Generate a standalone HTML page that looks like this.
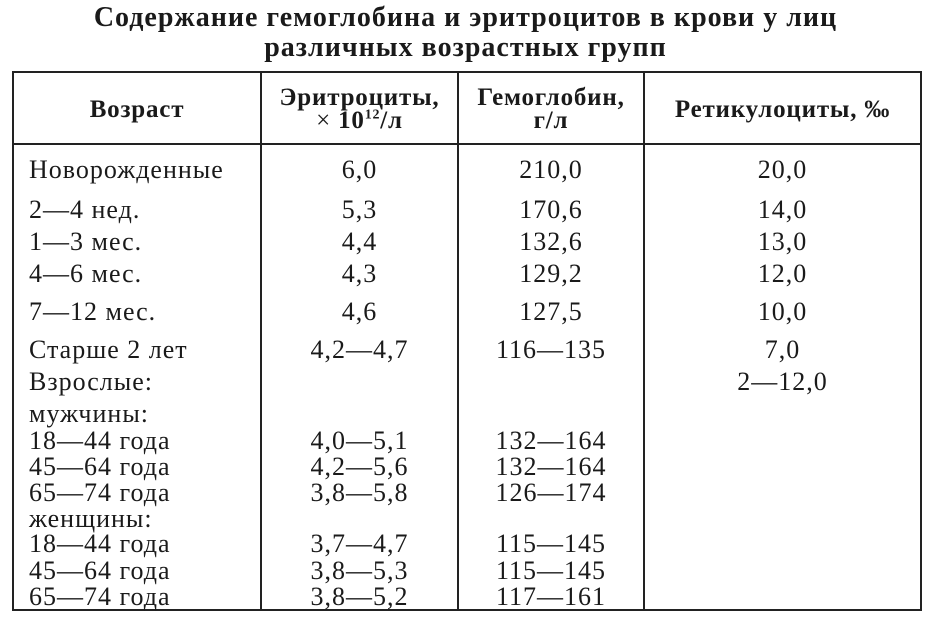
<!DOCTYPE html>
<html><head><meta charset="utf-8"><style>
body{margin:0;width:931px;height:618px;background:#fff;position:relative;overflow:hidden;font-family:"Liberation Serif","DejaVu Serif",serif;color:#1a1a1a}
.t{position:absolute;white-space:nowrap;line-height:28px;height:28px;font-size:26px;letter-spacing:1px}
.c{text-align:center}
.h{font-weight:bold;font-size:25px;letter-spacing:0.8px}
.ti{position:absolute;left:0;width:931px;text-align:center;font-weight:bold;font-size:28px;line-height:30px;letter-spacing:1px}
.ln{position:absolute;background:#222}
</style></head><body>
<div class="ti" style="top:3px">Содержание гемоглобина и эритроцитов в крови у лиц</div>
<div class="ti" style="top:33px">различных возрастных групп</div>
<div class="ln" style="left:12px;top:71px;width:910px;height:2px"></div>
<div class="ln" style="left:12px;top:609px;width:910px;height:2px"></div>
<div class="ln" style="left:12px;top:143px;width:910px;height:2px"></div>
<div class="ln" style="left:12px;top:71px;width:2px;height:540px"></div>
<div class="ln" style="left:920px;top:71px;width:2px;height:540px"></div>
<div class="ln" style="left:260px;top:71px;width:2px;height:540px"></div>
<div class="ln" style="left:457px;top:71px;width:2px;height:540px"></div>
<div class="ln" style="left:643px;top:71px;width:2px;height:540px"></div>

<div class="t h c" style="left:14px;width:246px;top:96px">Возраст</div>
<div class="t h c" style="left:262px;width:195px;top:86px;line-height:23px;height:46px">Эритроциты,<br><span style="font-weight:normal">×</span> 10<sup style="font-size:14px;line-height:0">12</sup>/л</div>
<div class="t h c" style="left:459px;width:184px;top:86px;line-height:23px;height:46px">Гемоглобин,<br>г/л</div>
<div class="t h c" style="left:645px;width:275px;top:96px">Ретикулоциты, ‰</div>

<div class="t" style="left:29px;top:156px">Новорожденные</div>
<div class="t" style="left:29px;top:196px">2—4 нед.</div>
<div class="t" style="left:29px;top:228px">1—3 мес.</div>
<div class="t" style="left:29px;top:260px">4—6 мес.</div>
<div class="t" style="left:29px;top:298px">7—12 мес.</div>
<div class="t" style="left:29px;top:336px">Старше 2 лет</div>
<div class="t" style="left:29px;top:368px">Взрослые:</div>
<div class="t" style="left:29px;top:400px">мужчины:</div>
<div class="t" style="left:29px;top:427px">18—44 года</div>
<div class="t" style="left:29px;top:453px">45—64 года</div>
<div class="t" style="left:29px;top:479px">65—74 года</div>
<div class="t" style="left:29px;top:505px">женщины:</div>
<div class="t" style="left:29px;top:530px">18—44 года</div>
<div class="t" style="left:29px;top:557px">45—64 года</div>
<div class="t" style="left:29px;top:583px">65—74 года</div>

<div class="t c" style="left:262px;width:195px;top:156px">6,0</div>
<div class="t c" style="left:262px;width:195px;top:196px">5,3</div>
<div class="t c" style="left:262px;width:195px;top:228px">4,4</div>
<div class="t c" style="left:262px;width:195px;top:260px">4,3</div>
<div class="t c" style="left:262px;width:195px;top:298px">4,6</div>
<div class="t c" style="left:262px;width:195px;top:336px">4,2—4,7</div>
<div class="t c" style="left:262px;width:195px;top:427px">4,0—5,1</div>
<div class="t c" style="left:262px;width:195px;top:453px">4,2—5,6</div>
<div class="t c" style="left:262px;width:195px;top:479px">3,8—5,8</div>
<div class="t c" style="left:262px;width:195px;top:530px">3,7—4,7</div>
<div class="t c" style="left:262px;width:195px;top:557px">3,8—5,3</div>
<div class="t c" style="left:262px;width:195px;top:583px">3,8—5,2</div>

<div class="t c" style="left:459px;width:184px;top:156px">210,0</div>
<div class="t c" style="left:459px;width:184px;top:196px">170,6</div>
<div class="t c" style="left:459px;width:184px;top:228px">132,6</div>
<div class="t c" style="left:459px;width:184px;top:260px">129,2</div>
<div class="t c" style="left:459px;width:184px;top:298px">127,5</div>
<div class="t c" style="left:459px;width:184px;top:336px">116—135</div>
<div class="t c" style="left:459px;width:184px;top:427px">132—164</div>
<div class="t c" style="left:459px;width:184px;top:453px">132—164</div>
<div class="t c" style="left:459px;width:184px;top:479px">126—174</div>
<div class="t c" style="left:459px;width:184px;top:530px">115—145</div>
<div class="t c" style="left:459px;width:184px;top:557px">115—145</div>
<div class="t c" style="left:459px;width:184px;top:583px">117—161</div>

<div class="t c" style="left:645px;width:275px;top:156px">20,0</div>
<div class="t c" style="left:645px;width:275px;top:196px">14,0</div>
<div class="t c" style="left:645px;width:275px;top:228px">13,0</div>
<div class="t c" style="left:645px;width:275px;top:260px">12,0</div>
<div class="t c" style="left:645px;width:275px;top:298px">10,0</div>
<div class="t c" style="left:645px;width:275px;top:336px">7,0</div>
<div class="t c" style="left:645px;width:275px;top:368px">2—12,0</div>
</body></html>
